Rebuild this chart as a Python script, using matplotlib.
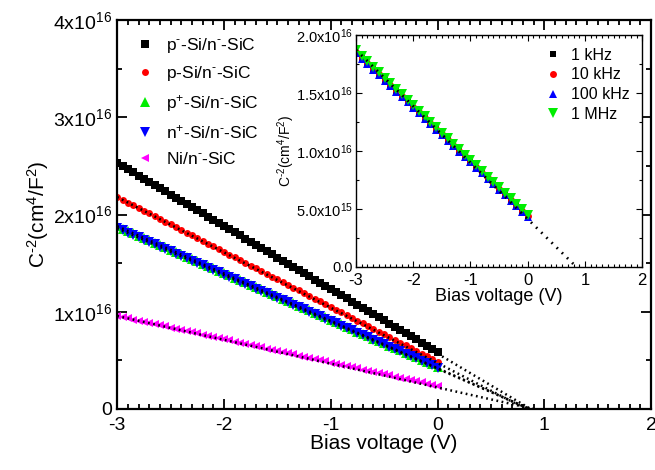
import numpy as np
import matplotlib
matplotlib.use("Agg")
import matplotlib.pyplot as plt
from matplotlib.ticker import MultipleLocator

plt.rcParams['font.family'] = ['Liberation Sans', 'DejaVu Sans']
plt.rcParams['mathtext.fontset'] = 'custom'
plt.rcParams['mathtext.rm'] = 'Liberation Sans'
plt.rcParams['mathtext.it'] = 'Liberation Sans:italic'
plt.rcParams['mathtext.bf'] = 'Liberation Sans:bold'
plt.rcParams['axes.unicode_minus'] = False

# C^-2 values in units of 1e16 cm^4/F^2
SCALE = 1e16

# main panel: bias sweep -3 .. 0 V, 0.05 V step
bias = np.round(np.arange(-3.0, 0.001, 0.05), 2)

p_minus = [2.530, 2.498, 2.465, 2.433, 2.400, 2.368, 2.336, 2.303, 2.271, 2.238,
           2.206, 2.174, 2.141, 2.109, 2.076, 2.044, 2.012, 1.979, 1.947, 1.914,
           1.882, 1.850, 1.817, 1.785, 1.752, 1.720, 1.688, 1.655, 1.623, 1.590,
           1.558, 1.526, 1.493, 1.461, 1.428, 1.396, 1.364, 1.331, 1.299, 1.266,
           1.234, 1.202, 1.169, 1.137, 1.104, 1.072, 1.040, 1.007, 0.975, 0.942,
           0.910, 0.878, 0.845, 0.813, 0.780, 0.748, 0.716, 0.683, 0.651, 0.618,
           0.586]
p_mid = [2.180, 2.152, 2.124, 2.095, 2.067, 2.039, 2.011, 1.982, 1.954, 1.926,
         1.898, 1.869, 1.841, 1.813, 1.785, 1.756, 1.728, 1.700, 1.672, 1.643,
         1.615, 1.587, 1.559, 1.530, 1.502, 1.474, 1.446, 1.417, 1.389, 1.361,
         1.333, 1.304, 1.276, 1.248, 1.220, 1.191, 1.163, 1.135, 1.107, 1.078,
         1.050, 1.022, 0.994, 0.965, 0.937, 0.909, 0.881, 0.852, 0.824, 0.796,
         0.768, 0.739, 0.711, 0.683, 0.655, 0.626, 0.598, 0.570, 0.542, 0.513,
         0.485]
p_plus = [1.880, 1.856, 1.832, 1.808, 1.784, 1.760, 1.736, 1.711, 1.687, 1.663,
          1.639, 1.615, 1.591, 1.567, 1.543, 1.519, 1.495, 1.471, 1.447, 1.422,
          1.398, 1.374, 1.350, 1.326, 1.302, 1.278, 1.254, 1.230, 1.206, 1.182,
          1.158, 1.133, 1.109, 1.085, 1.061, 1.037, 1.013, 0.989, 0.965, 0.941,
          0.917, 0.893, 0.869, 0.844, 0.820, 0.796, 0.772, 0.748, 0.724, 0.700,
          0.676, 0.652, 0.628, 0.604, 0.580, 0.555, 0.531, 0.507, 0.483, 0.459,
          0.435]
n_plus = [1.860, 1.836, 1.812, 1.788, 1.764, 1.740, 1.717, 1.693, 1.669, 1.645,
          1.621, 1.597, 1.573, 1.549, 1.525, 1.501, 1.477, 1.453, 1.430, 1.406,
          1.382, 1.358, 1.334, 1.310, 1.286, 1.262, 1.238, 1.214, 1.190, 1.166,
          1.143, 1.119, 1.095, 1.071, 1.047, 1.023, 0.999, 0.975, 0.951, 0.927,
          0.903, 0.879, 0.856, 0.832, 0.808, 0.784, 0.760, 0.736, 0.712, 0.688,
          0.664, 0.640, 0.616, 0.592, 0.569, 0.545, 0.521, 0.497, 0.473, 0.449,
          0.425]
ni_schottky = [0.956, 0.944, 0.932, 0.920, 0.908, 0.896, 0.884, 0.872, 0.860, 0.848,
               0.836, 0.824, 0.812, 0.800, 0.788, 0.776, 0.764, 0.752, 0.740, 0.728,
               0.716, 0.704, 0.692, 0.680, 0.668, 0.656, 0.644, 0.632, 0.620, 0.608,
               0.596, 0.584, 0.572, 0.560, 0.548, 0.536, 0.524, 0.512, 0.500, 0.488,
               0.476, 0.464, 0.452, 0.440, 0.428, 0.416, 0.404, 0.392, 0.380, 0.368,
               0.356, 0.344, 0.332, 0.320, 0.308, 0.296, 0.284, 0.272, 0.260, 0.248,
               0.236]

SUP_HY = r'$^{\text{-}}$'
main_labels = ['p' + SUP_HY + '-Si/n' + SUP_HY + '-SiC',
               'p-Si/n' + SUP_HY + '-SiC',
               r'p$^{+}$-Si/n' + SUP_HY + '-SiC',
               r'n$^{+}$-Si/n' + SUP_HY + '-SiC',
               'Ni/n' + SUP_HY + '-SiC']
# linear fit: value at -3 V and built-in voltage (x intercept)
fit_start = [2.53, 2.18, 1.88, 1.86, 0.956]
fit_v0 = [0.87, 0.83, 0.86, 0.86, 0.90]

# inset: frequency dependence, -3 .. 0 V, 0.1 V step
bias_in = np.round(np.arange(-3.0, 0.001, 0.1), 1)
f_1k = [1.845, 1.798, 1.751, 1.703, 1.656, 1.609, 1.562, 1.515, 1.468, 1.420,
        1.373, 1.326, 1.279, 1.232, 1.185, 1.138, 1.090, 1.043, 0.996, 0.949,
        0.902, 0.854, 0.807, 0.760, 0.713, 0.666, 0.619, 0.571, 0.524, 0.477, 0.430]
f_10k = [1.850, 1.803, 1.756, 1.708, 1.661, 1.614, 1.567, 1.520, 1.473, 1.425,
         1.378, 1.331, 1.284, 1.237, 1.190, 1.143, 1.095, 1.048, 1.001, 0.954,
         0.907, 0.859, 0.812, 0.765, 0.718, 0.671, 0.624, 0.576, 0.529, 0.482, 0.435]
f_100k = [1.840, 1.793, 1.746, 1.699, 1.652, 1.605, 1.558, 1.511, 1.464, 1.417,
          1.370, 1.323, 1.276, 1.229, 1.182, 1.135, 1.088, 1.041, 0.994, 0.947,
          0.900, 0.853, 0.806, 0.759, 0.712, 0.665, 0.618, 0.571, 0.524, 0.477, 0.430]
f_1M = [1.865, 1.818, 1.771, 1.723, 1.676, 1.629, 1.582, 1.535, 1.487, 1.440,
        1.393, 1.346, 1.298, 1.251, 1.204, 1.157, 1.110, 1.062, 1.015, 0.968,
        0.921, 0.874, 0.826, 0.779, 0.732, 0.685, 0.638, 0.590, 0.543, 0.496, 0.449]
inset_labels = ['1 kHz', '10 kHz', '100 kHz', '1 MHz']
inset_fit_start = 1.87
inset_fit_v0 = 0.85

main_styles = [('s', 'black', 5.5), ('o', 'red', 5), ('^', '#00ee00', 6.5),
               ('v', 'blue', 6.5), ('<', 'magenta', 5.5)]
inset_styles = [('s', 'black', 5), ('o', 'red', 5), ('^', 'blue', 6),
                ('v', '#00ee00', 7)]

fig = plt.figure(figsize=(6.55, 4.7), dpi=100)
ax = fig.add_axes([0.179, 0.130, 0.815, 0.827])

series = [p_minus, p_mid, p_plus, n_plus, ni_schottky]
for vals, lab, (m, c, ms) in zip(series, main_labels, main_styles):
    ax.plot(bias, np.array(vals) * SCALE, linestyle='none', marker=m, color=c,
            markersize=ms, markeredgewidth=0, label=lab)
for y0, v0 in zip(fit_start, fit_v0):
    ax.plot([-3, v0], [y0 * SCALE, 0], color='black', linewidth=1.8,
            linestyle=(0, (0.7, 1.4)))

ax.set_xlim(-3, 2)
ax.set_ylim(0, 4e16)
ax.xaxis.set_major_locator(MultipleLocator(1))
ax.xaxis.set_minor_locator(MultipleLocator(0.1))
ax.set_yticks([0, 1e16, 2e16, 3e16, 4e16])
ax.set_yticklabels(['0', r'1x10$^{16}$', r'2x10$^{16}$', r'3x10$^{16}$', r'4x10$^{16}$'])
ax.yaxis.set_minor_locator(MultipleLocator(0.5e16))
ax.tick_params(which='both', direction='in', top=True, right=True, labelsize=14, width=1.3)
ax.tick_params(axis='x', pad=6)
ax.tick_params(which='major', length=7)
ax.tick_params(which='minor', length=3.5)
for s in ax.spines.values():
    s.set_linewidth(1.6)
ax.set_xlabel('Bias voltage (V)', fontsize=15, labelpad=0)
ax.set_ylabel(r'C$^{\text{-}2}$(cm$^{4}$/F$^{2}$)', fontsize=15, labelpad=2)
ax.legend(loc='upper left', frameon=False, fontsize=12.5, handletextpad=0.6,
          labelspacing=0.55, borderaxespad=0.6, handlelength=1.2,
          bbox_to_anchor=(0.0, 1.005))

# inset
axi = fig.add_axes([0.5435, 0.432, 0.437, 0.494])
inset_series = [f_1k, f_10k, f_100k, f_1M]
for vals, lab, (m, c, ms) in zip(inset_series, inset_labels, inset_styles):
    axi.plot(bias_in, np.array(vals) * SCALE, linestyle='none', marker=m, color=c,
             markersize=ms, markeredgewidth=0, label=lab)
axi.plot([-3, inset_fit_v0], [inset_fit_start * SCALE, 0], color='black',
         linewidth=2.0, linestyle=(0, (0.6, 2.0)))
axi.set_xlim(-3, 2)
axi.set_ylim(0, 2e16)
axi.xaxis.set_major_locator(MultipleLocator(1))
axi.xaxis.set_minor_locator(MultipleLocator(0.1))
axi.set_yticks([0, 0.5e16, 1e16, 1.5e16, 2e16])
axi.set_yticklabels(['0.0', r'5.0x10$^{15}$', r'1.0x10$^{16}$', r'1.5x10$^{16}$',
                     r'2.0x10$^{16}$'])
axi.yaxis.set_minor_locator(MultipleLocator(0.25e16))
axi.tick_params(which='both', direction='in', top=True, right=True, width=0.8)
axi.tick_params(axis='x', labelsize=12, pad=4)
axi.tick_params(axis='y', labelsize=10.5, pad=2)
axi.tick_params(which='major', length=4)
axi.tick_params(which='minor', length=2)
for s in axi.spines.values():
    s.set_linewidth(1.0)
axi.set_xlabel('Bias voltage (V)', fontsize=13, labelpad=0)
axi.set_ylabel(r'C$^{\text{-}2}$(cm$^{4}$/F$^{2}$)', fontsize=10)
axi.yaxis.set_label_coords(-0.205, 0.5)
axi.legend(loc='upper right', frameon=False, fontsize=11.5, handletextpad=0.5,
           labelspacing=0.3, handlelength=1.2, borderaxespad=0.4)

fig.savefig('out.png', dpi=100)
